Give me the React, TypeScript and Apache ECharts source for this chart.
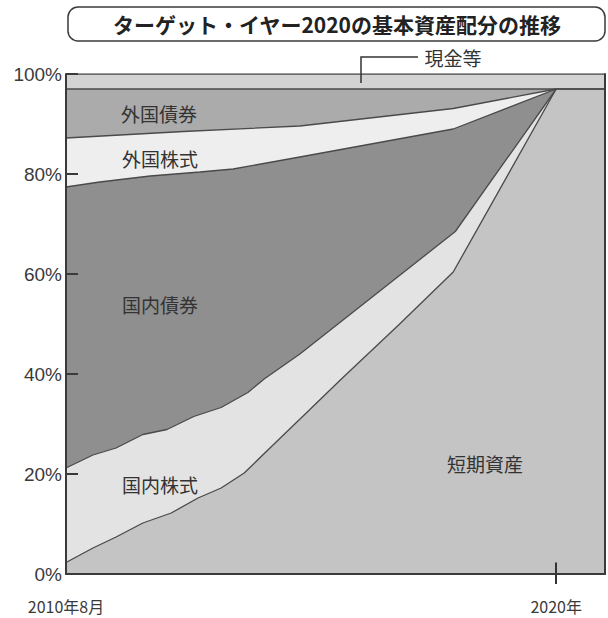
import React, { useEffect, useRef } from 'react';
import * as echarts from 'echarts';

// x axis in years (decimal)
const X_START = 2010 + 8 / 12; // 2010年8月
const X_TARGET = 2020;
const X_END = 2020.93;

const xTickValues = [X_START, X_TARGET];
const xTickLabels = ['2010年8月', '2020年'];
const yTickValues = [0, 20, 40, 60, 80, 100];

// Cumulative top edge (%) of each band
const cashTopX = [X_START, X_END];
const cashTopY = [100, 100];

const foreignBondTopX = [X_START, X_END];
const foreignBondTopY = [97, 97];

const foreignStockTopX = [X_START, 2012.9, 2015.12, 2018.04, 2020];
const foreignStockTopY = [87.2, 88.5, 89.6, 93.1, 97];

const domesticBondTopX = [X_START, 2011.31, 2012.27, 2013.22, 2013.85, 2015.12, 2018.04, 2020];
const domesticBondTopY = [77.4, 78.4, 79.6, 80.4, 81.0, 83.4, 89.0, 97];

const domesticStockTopX = [X_START, 2011.18, 2011.62, 2012.13, 2012.59, 2013.1, 2013.62, 2014.13, 2014.44, 2015.12, 2018.08, 2020];
const domesticStockTopY = [21.2, 23.8, 25.2, 27.9, 28.9, 31.5, 33.3, 36.3, 39.0, 44.0, 68.5, 97];

const shortTermTopX = [X_START, 2011.18, 2011.62, 2012.13, 2012.67, 2013.18, 2013.62, 2014.06, 2014.57, 2015.31, 2015.9, 2017.0, 2018.04, 2020, X_END];
const shortTermTopY = [2.3, 5.2, 7.4, 10.2, 12.2, 15.2, 17.2, 20.2, 25.4, 32.9, 38.9, 49.8, 60.4, 97, 97];

const bandNames = ['現金等', '外国債券', '外国株式', '国内債券', '国内株式', '短期資産'];
const bandColors = ['#d3d3d3', '#ababab', '#eeeeee', '#8f8f8f', '#e3e3e3', '#c4c4c4'];
const bandX = [cashTopX, foreignBondTopX, foreignStockTopX, domesticBondTopX, domesticStockTopX, shortTermTopX];
const bandY = [cashTopY, foreignBondTopY, foreignStockTopY, domesticBondTopY, domesticStockTopY, shortTermTopY];

const TITLE = 'ターゲット・イヤー2020の基本資産配分の推移';
const CJK = '"Noto Sans CJK JP", "Noto Sans", sans-serif';
const LATIN = '"Liberation Sans", Arial, sans-serif';

export default function App() {
  const ref = useRef<HTMLDivElement>(null);

  useEffect(() => {
    if (!ref.current) return;
    const chart = echarts.init(ref.current, undefined, { renderer: 'svg' });

    const series: any[] = bandNames.map((name, i) => ({
      name,
      type: 'line',
      data: bandX[i].map((x, j) => [x, bandY[i][j]]),
      symbol: 'none',
      smooth: false,
      lineStyle: { color: '#4a4a4a', width: 1.3 },
      areaStyle: { color: bandColors[i], opacity: 1 },
      z: 2,
    }));
    // inner part of the 2020 tick mark
    series[series.length - 1].markLine = {
      silent: true,
      symbol: 'none',
      label: { show: false },
      lineStyle: { color: '#333', width: 2, type: 'solid' },
      data: [[{ coord: [X_TARGET, 0] }, { coord: [X_TARGET, 2.3] }]],
    };

    const option: any = {
      animation: false,
      backgroundColor: '#ffffff',
      grid: { left: 66, right: 3, top: 74, bottom: 44, containLabel: false },
      xAxis: [
        {
          type: 'value',
          min: X_START,
          max: X_END,
          z: 10,
          axisLine: { show: true, onZero: false, lineStyle: { color: '#3a3a3a', width: 2 } },
          splitLine: { show: false },
          axisTick: {
            show: true,
            customValues: [X_TARGET],
            length: 10,
            lineStyle: { color: '#333', width: 2 },
          },
          axisLabel: {
            show: true,
            customValues: xTickValues,
            margin: 24,
            fontSize: 16,
            color: '#3a3a3a',
            fontFamily: CJK,
            formatter: (v: number) => {
              let best = 0;
              xTickValues.forEach((t, i) => {
                if (Math.abs(t - v) < Math.abs(xTickValues[best] - v)) best = i;
              });
              return xTickLabels[best];
            },
          },
        },
      ],
      yAxis: [
        {
          type: 'value',
          min: 0,
          max: 100,
          interval: 20,
          z: 10,
          axisLine: { show: true, lineStyle: { color: '#3a3a3a', width: 2 } },
          splitLine: { show: false },
          axisTick: { show: true, inside: true, length: 12, lineStyle: { color: '#3a3a3a', width: 2 } },
          axisLabel: {
            margin: 4,
            fontSize: 19,
            color: '#3a3a3a',
            fontFamily: LATIN,
            formatter: (v: number) => (yTickValues.includes(v) ? `${v}%` : ''),
          },
        },
        {
          type: 'value',
          position: 'right',
          min: 0,
          max: 100,
          z: 10,
          axisLine: { show: true, lineStyle: { color: '#3a3a3a', width: 2 } },
          splitLine: { show: false },
          axisTick: { show: false },
          axisLabel: { show: false },
        },
      ],
      series,
      graphic: [
        {
          type: 'rect',
          shape: { x: 68, y: 7, width: 537, height: 34, r: 10 },
          style: { fill: '#ffffff', stroke: '#3a3a3a', lineWidth: 1.5 },
        },
        {
          type: 'text',
          x: 337,
          y: 24,
          style: {
            text: TITLE,
            fill: '#222',
            font: `bold 21px ${CJK}`,
            align: 'center',
            verticalAlign: 'middle',
          },
        },
        {
          type: 'polyline',
          shape: { points: [[418, 57], [361, 57], [361, 83]] },
          style: { stroke: '#333', lineWidth: 1.5, fill: 'none' },
          z: 20,
        },
        {
          type: 'text',
          x: 453,
          y: 57,
          style: { text: '現金等', fill: '#333', font: `19px ${CJK}`, align: 'center', verticalAlign: 'middle' },
        },
        ...[
          { t: '外国債券', x: 159, y: 113 },
          { t: '外国株式', x: 160, y: 158 },
          { t: '国内債券', x: 160, y: 304 },
          { t: '国内株式', x: 160, y: 484 },
          { t: '短期資産', x: 485, y: 463 },
        ].map((l) => ({
          type: 'text',
          x: l.x,
          y: l.y,
          z: 20,
          style: { text: l.t, fill: '#333', font: `19px ${CJK}`, align: 'center', verticalAlign: 'middle' },
        })),
      ],
    };

    chart.setOption(option);
    return () => chart.dispose();
  }, []);

  return (
    <div
      ref={ref}
      style={{ position: 'fixed', left: 0, top: 0, width: 608, height: 618, background: '#fff' }}
    />
  );
}
